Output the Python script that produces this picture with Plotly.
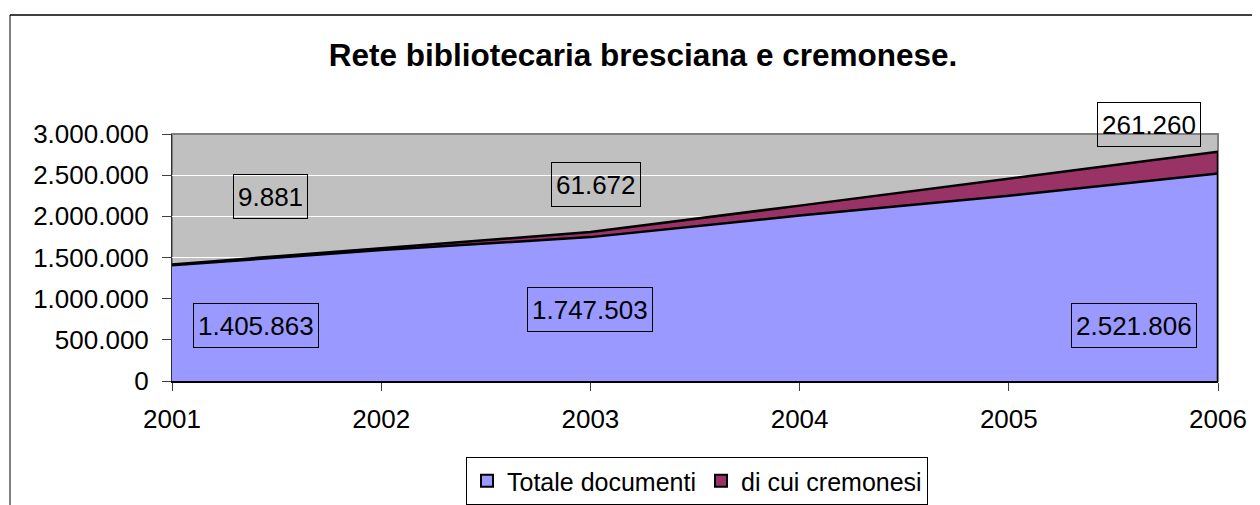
import plotly.graph_objects as go

# data
anni = [2001, 2002, 2003, 2004, 2005, 2006]
totale_documenti = [1405863, 1590000, 1747503, 2010000, 2250000, 2521806]
di_cui_cremonesi = [9881, 25000, 61672, 120000, 210000, 261260]
anni_etichette = [2001, 2003, 2006]
colori = ["#9999FF", "#993366"]

titolo = "Rete bibliotecaria bresciana e cremonese."
y_ticks = [0, 500000, 1000000, 1500000, 2000000, 2500000, 3000000]

# the page has an 8px body margin, so work in page pixels minus 8
OFF = 8
W, H = 1260 - OFF, 505 - OFF
L, R, T, B = 172 - OFF, 1218 - OFF, 134 - OFF, 381 - OFF
FONT = "Liberation Sans, Arial, sans-serif"
FS = 26


def it(n):
    # italian thousands separator
    return f"{n:,}".replace(",", ".")


def px(x):
    return (x - OFF - L) / (R - L)


def py(y):
    return (B - (y - OFF)) / (B - T)


fig = go.Figure()
nomi = ["Totale documenti", "di cui cremonesi"]
for nome, serie, col in zip(nomi, [totale_documenti, di_cui_cremonesi], colori):
    fig.add_trace(go.Scatter(
        x=anni, y=serie, name=nome, showlegend=False,
        stackgroup="uno", mode="lines",
        line=dict(color="black", width=2.5),
        fillcolor=col,
    ))
# square legend keys like Excel
for nome, col in zip(nomi, colori):
    fig.add_trace(go.Scatter(
        x=[None], y=[None], name=nome, mode="markers",
        marker=dict(symbol="square", size=15, color=col,
                    line=dict(color="black", width=2)),
    ))

# labels in boxes, shifted like the Excel ones
shift_tot = {2001: (84, -2), 2003: (0, 0), 2006: (-84, -48)}
shift_cre = {2001: (98, 68), 2003: (6, 48), 2006: (-69, 27)}
annots = []
for a in anni_etichette:
    i = anni.index(a)
    tot = totale_documenti[i]
    cre = di_cui_cremonesi[i]
    xs, ys = shift_tot[a]
    annots.append(dict(x=a, y=tot / 2, text=it(tot), xshift=xs, yshift=ys))
    xs, ys = shift_cre[a]
    annots.append(dict(x=a, y=tot + cre, text=it(cre), xshift=xs, yshift=ys))
for an in annots:
    an.update(xref="x", yref="y", showarrow=False,
              font=dict(family=FONT, size=FS, color="black"),
              bordercolor="black", borderwidth=1, borderpad=4, height=35,
              xanchor="center", yanchor="middle")

ultimo = totale_documenti[-1] + di_cui_cremonesi[-1]
shapes = [
    # plot area outline
    dict(type="rect", xref="paper", yref="paper", x0=0, x1=1, y0=0, y1=1,
         line=dict(color="#808080", width=2), layer="below"),
    # right edge of the stacked areas
    dict(type="line", xref="x", yref="y", x0=anni[-1], x1=anni[-1],
         y0=0, y1=ultimo, line=dict(color="black", width=2.5)),
    # chart frame (only top and left are inside the picture)
    dict(type="line", xref="paper", yref="paper", x0=px(10), x1=px(1270),
         y0=py(15), y1=py(15), line=dict(color="#404040", width=2)),
    dict(type="line", xref="paper", yref="paper", x0=px(10), x1=px(10),
         y0=py(15), y1=py(520), line=dict(color="black", width=1)),
]

fig.update_layout(
    width=W, height=H,
    margin=dict(l=L, r=W - R, t=T, b=H - B, autoexpand=False),
    paper_bgcolor="white",
    plot_bgcolor="#C0C0C0",
    font=dict(family=FONT, size=FS, color="black"),
    title=dict(text="<b>" + titolo + "</b>", x=(643 - OFF) / W,
               xanchor="center", y=1 - (55 - OFF) / H, yanchor="middle",
               yref="container",
               font=dict(family=FONT, size=31.5, color="black")),
    showlegend=True,
    legend=dict(orientation="h", x=px(697), y=py(481), xanchor="center",
                yanchor="middle", bordercolor="black", borderwidth=1,
                bgcolor="white", font=dict(family=FONT, size=25),
                itemwidth=30, traceorder="normal", itemsizing="constant"),
    annotations=annots,
    shapes=shapes,
    xaxis=dict(range=[anni[0], anni[-1]], tickvals=anni,
               ticktext=[str(a) for a in anni],
               ticks="outside", ticklen=8, tickcolor="#404040",
               ticklabelstandoff=6,
               showgrid=False, zeroline=False,
               showline=True, linecolor="black", linewidth=2,
               tickfont=dict(family=FONT, size=FS)),
    yaxis=dict(range=[0, 3000000], tickvals=y_ticks,
               ticktext=[it(v) for v in y_ticks],
               ticks="outside", ticklen=9, tickcolor="#404040",
               ticklabelstandoff=8,
               showgrid=True, gridcolor="white", gridwidth=1,
               zeroline=False, showline=True, linecolor="#303030",
               linewidth=1, tickfont=dict(family=FONT, size=FS)),
)

fig.write_html("out.html")
